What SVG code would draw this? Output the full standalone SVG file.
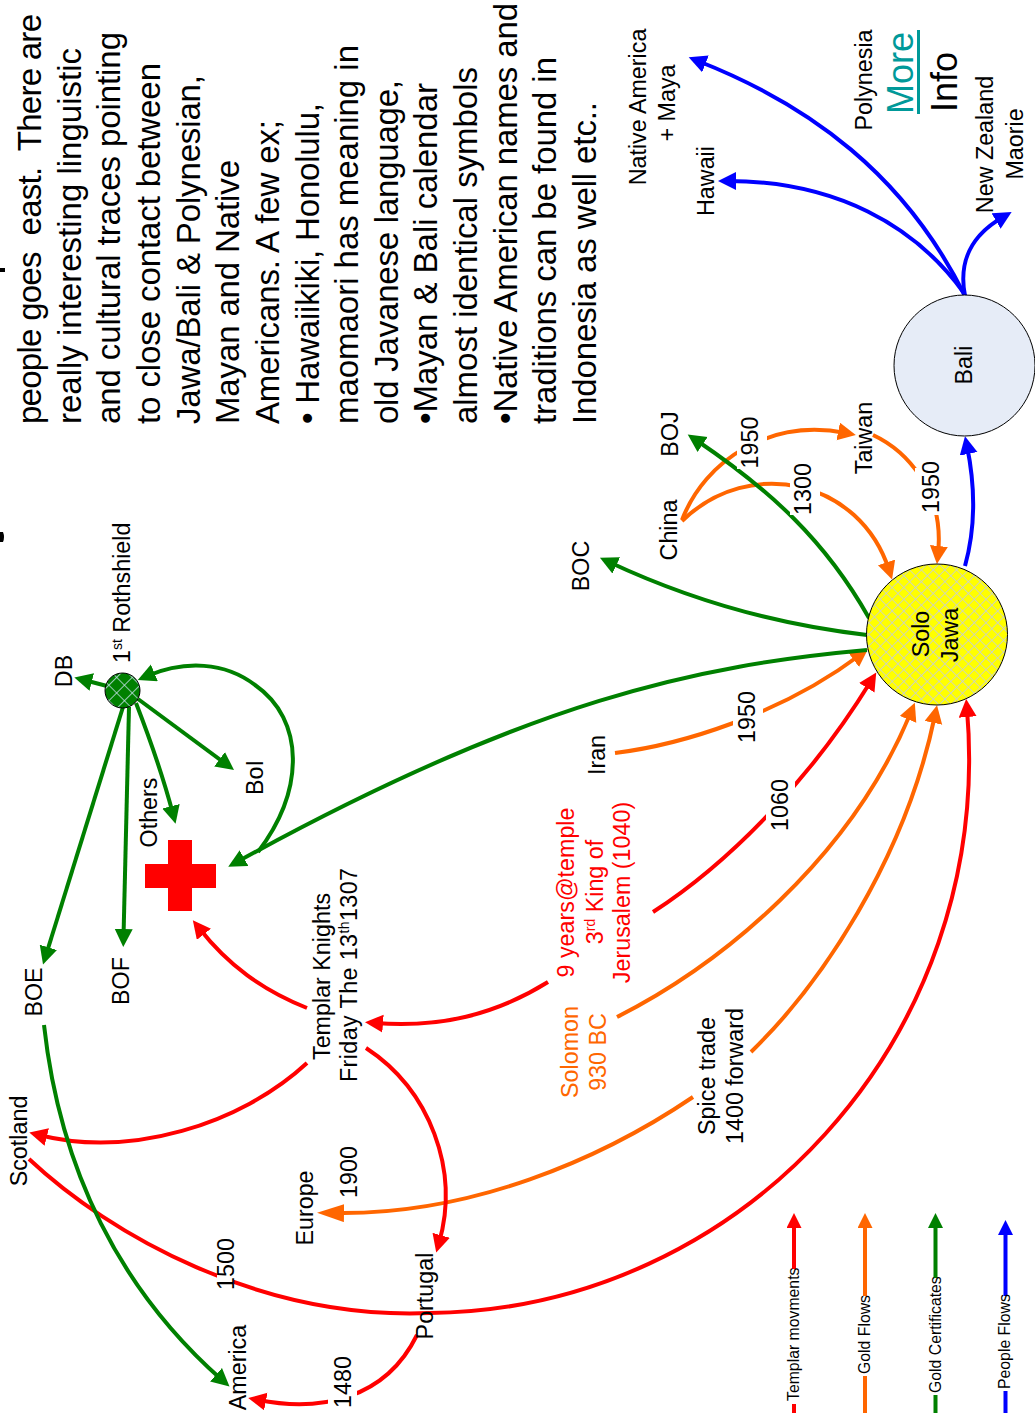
<svg xmlns="http://www.w3.org/2000/svg" width="1035" height="1420" viewBox="0 0 1035 1420">
<style>
text{font-family:"Liberation Sans",Arial,sans-serif;font-size:23.3px;fill:#000}
.m{text-anchor:middle}
.big{font-size:33px}
.leg{font-size:15.8px}
.red{fill:#f00}
.or{fill:#f60}
.bg{fill:#fff}
path.c{fill:none;stroke-width:4}
.r{stroke:#f00;marker-end:url(#hr)}
.o{stroke:#f60;marker-end:url(#ho)}
.g{stroke:#008000;marker-end:url(#hg)}
.b{stroke:#00f;marker-end:url(#hb)}
.lr{stroke:#f00;marker-end:url(#lr)}
.lo{stroke:#f60;marker-end:url(#lo)}
.lg{stroke:#008000;marker-end:url(#lg)}
.lb{stroke:#00f;marker-end:url(#lb)}
</style>
<defs>
<marker id="hr" markerUnits="userSpaceOnUse" markerWidth="19" markerHeight="19" refX="8" refY="9" orient="auto"><path d="M0 0L18 9L0 18z" fill="#f00"/></marker>
<marker id="ho" markerUnits="userSpaceOnUse" markerWidth="19" markerHeight="19" refX="8" refY="9" orient="auto"><path d="M0 0L18 9L0 18z" fill="#f60"/></marker>
<marker id="hol" markerUnits="userSpaceOnUse" markerWidth="28" markerHeight="19" refX="8" refY="9" orient="auto"><path d="M0 0L27 9L0 18z" fill="#f60"/></marker>
<marker id="hg" markerUnits="userSpaceOnUse" markerWidth="19" markerHeight="19" refX="8" refY="9" orient="auto"><path d="M0 0L18 9L0 18z" fill="#008000"/></marker>
<marker id="hb" markerUnits="userSpaceOnUse" markerWidth="19" markerHeight="19" refX="8" refY="9" orient="auto"><path d="M0 0L18 9L0 18z" fill="#00f"/></marker>
<marker id="lr" markerUnits="userSpaceOnUse" markerWidth="16" markerHeight="16" refX="8" refY="7.5" orient="auto"><path d="M0 0L15 7.5L0 15z" fill="#f00"/></marker>
<marker id="lo" markerUnits="userSpaceOnUse" markerWidth="16" markerHeight="16" refX="8" refY="7.5" orient="auto"><path d="M0 0L15 7.5L0 15z" fill="#f60"/></marker>
<marker id="lg" markerUnits="userSpaceOnUse" markerWidth="16" markerHeight="16" refX="8" refY="7.5" orient="auto"><path d="M0 0L15 7.5L0 15z" fill="#008000"/></marker>
<marker id="lb" markerUnits="userSpaceOnUse" markerWidth="16" markerHeight="16" refX="8" refY="7.5" orient="auto"><path d="M0 0L15 7.5L0 15z" fill="#00f"/></marker>
<pattern id="py" patternUnits="userSpaceOnUse" width="8.3" height="8.3" patternTransform="rotate(45)"><rect width="8.3" height="8.3" fill="#ff0"/><path d="M0 0H8.3M0 0V8.3" stroke="#c3cbe3" stroke-width="1.5" fill="none"/></pattern>
<pattern id="pg" patternUnits="userSpaceOnUse" width="11" height="11" patternTransform="rotate(45)"><rect width="11" height="11" fill="#008000"/><path d="M0 0H11M0 0V11" stroke="#c4e0ea" stroke-width="1.6" fill="none"/></pattern>
</defs>
<rect width="1035" height="1420" fill="#fff"/>

<g id="connectors">
<path class="c b" d="M965 296C905 175 810 105 698 61"/>
<path class="c b" d="M964 293C915 225 835 181 728 181"/>
<path class="c b" d="M965 296C958 260 972 235 1003 217"/>
<path class="c b" d="M965 566C975 530 976 490 967 446"/>
<path class="c o" d="M615 753C680 745 780 715 860 655"/>
<path class="c o" d="M617 1017C720 965 850 860 911 712"/>
<path class="c o" d="M751 1052C820 985 905 860 935 715"/>
<path class="c" style="stroke:#f60;marker-end:url(#hol)" d="M693 1097C600 1160 470 1215 336 1213"/>
<path class="c o" d="M682 520C705 460 770 418 846 433"/>
<path class="c o" d="M873 435C905 450 945 490 938 554"/>
<path class="c o" d="M682 521C750 455 860 480 889 570"/>
<path class="c r" d="M653 912C730 862 810 780 871 681"/>
<path class="c r" d="M548 982C495 1015 440 1028 375 1023"/>
<path class="c r" d="M307 1008C262 990 228 965 199 928"/>
<path class="c r" d="M307 1063C240 1125 130 1158 39 1135"/>
<path class="c r" d="M366 1048C430 1090 460 1170 439 1243"/>
<path class="c r" d="M417 1335C385 1400 320 1412 258 1400"/>
<path class="c r" d="M29 1159C110 1235 260 1320 430 1313C740 1310 995 1040 967 709"/>
<path class="c g" d="M867 650C700 665 530 700 237 862"/>
<path class="c g" d="M258 852C305 790 305 720 255 685C225 662 185 660 147 676"/>
<path class="c g" d="M867 635C780 625 690 600 609 562"/>
<path class="c g" d="M869 618C825 540 770 490 696 440"/>
<path class="c g" d="M44 1025C60 1170 120 1290 222 1380"/>
<path class="c g" d="M107 686L84 680"/>
<path class="c g" d="M123 707L46 955"/>
<path class="c g" d="M129 707L123.5 937"/>
<path class="c g" d="M136 703Q160 765 173 814"/>
<path class="c g" d="M138 699L226 764"/>
<path class="c lr" d="M794 1413V1220"/>
<path class="c lo" d="M865 1413V1220"/>
<path class="c lg" d="M935.5 1413V1220"/>
<path class="c lb" d="M1005.5 1413V1227"/>
</g>

<g id="intro-text">
<path d="M0 268h5v4h-5zM0 532h3q2 5 0 10h-3z" fill="#000"/>
<text class="big" textLength="410" transform="translate(41 424) rotate(-90)">people goes&#160; east.&#160; There are</text>
<text class="big" textLength="376" transform="translate(80.600 424) rotate(-90)">really interesting linguistic</text>
<text class="big" textLength="392" transform="translate(120.300 424) rotate(-90)">and cultural traces pointing</text>
<text class="big" textLength="361" transform="translate(159.900 424) rotate(-90)">to close contact between</text>
<text class="big" textLength="349" transform="translate(199.600 424) rotate(-90)">Jawa/Bali &amp; Polynesian,</text>
<text class="big" textLength="264" transform="translate(239.200 424) rotate(-90)">Mayan and Native</text>
<text class="big" textLength="304" transform="translate(278.800 424) rotate(-90)">Americans. A few ex;</text>
<text class="big" textLength="321" transform="translate(318.500 424) rotate(-90)">• Hawaiikiki, Honolulu,</text>
<text class="big" textLength="379" transform="translate(358.100 424) rotate(-90)">maomaori has meaning in</text>
<text class="big" textLength="344" transform="translate(397.800 424) rotate(-90)">old Javanese language,</text>
<text class="big" textLength="341" transform="translate(437.400 424) rotate(-90)">•Mayan &amp; Bali calendar</text>
<text class="big" textLength="357" transform="translate(477 424) rotate(-90)">almost identical symbols</text>
<text class="big" textLength="421" transform="translate(516.700 424) rotate(-90)">•Native American names and</text>
<text class="big" textLength="367" transform="translate(556.300 424) rotate(-90)">traditions can be found in</text>
<text class="big" textLength="322" transform="translate(596 424) rotate(-90)">Indonesia as well etc..</text>
</g>

<g id="node-jawa"><circle cx="937" cy="634.500" r="70.500" fill="url(#py)" stroke="#000" stroke-width="1"/>
<text class="m" transform="translate(929 634) rotate(-90)">Solo</text>
<text class="m" transform="translate(958 635) rotate(-90)">Jawa</text></g>
<g id="node-bali"><circle cx="964.500" cy="365.500" r="70.500" fill="#e6ecf7" stroke="#000" stroke-width="1"/>
<text class="m" transform="translate(972 365) rotate(-90)">Bali</text></g>
<g id="node-rothshield"><circle cx="122.500" cy="690.500" r="17.500" fill="url(#pg)" stroke="#000" stroke-width="1"/>
<text transform="translate(130 663) rotate(-90)">1<tspan font-size="14" dy="-8">st</tspan><tspan dy="8"> Rothshield</tspan></text></g>
<g id="node-cross"><path d="M168 840h24v24h24v24h-24v23h-24v-23h-23v-24h23z" fill="#f00"/></g>

<g id="node-db"><text class="m" transform="translate(71.500 671) rotate(-90)">DB</text></g>
<g id="node-boi"><text class="m" transform="translate(263 777.500) rotate(-90)">BoI</text></g>
<g id="node-others"><text class="m" transform="translate(157 812.500) rotate(-90)">Others</text></g>
<g id="node-boe"><text class="m" transform="translate(42 992) rotate(-90)">BOE</text></g>
<g id="node-bof"><text class="m" transform="translate(129 981) rotate(-90)">BOF</text></g>
<g id="node-templar"><text transform="translate(330 1060) rotate(-90)">Templar Knights</text>
<text textLength="214" transform="translate(357 1082) rotate(-90)">Friday The 13<tspan font-size="14" dy="-8">th</tspan><tspan dy="8">1307</tspan></text></g>
<g id="node-scotland"><text class="m" transform="translate(27 1141) rotate(-90)">Scotland</text></g>
<g id="node-europe"><text class="m" transform="translate(313 1208) rotate(-90)">Europe</text></g>
<g id="label-1900"><text class="m" transform="translate(357 1172) rotate(-90)">1900</text></g>
<g id="label-1500"><rect class="bg" x="217" y="1238" width="17" height="52"/><text class="m" transform="translate(234 1264) rotate(-90)">1500</text></g>
<g id="node-portugal"><text class="m" transform="translate(433 1296) rotate(-90)">Portugal</text></g>
<g id="node-america"><text class="m" transform="translate(246 1367.500) rotate(-90)">America</text></g>
<g id="label-1480"><rect class="bg" x="328" y="1358" width="29" height="50"/><text class="m" transform="translate(351 1382) rotate(-90)">1480</text></g>
<g id="node-spice"><text class="m" transform="translate(715 1076) rotate(-90)">Spice trade</text>
<text class="m" transform="translate(743 1076) rotate(-90)">1400 forward</text></g>
<g id="node-solomon"><text class="m or" transform="translate(578 1052) rotate(-90)">Solomon</text>
<text class="m or" transform="translate(606 1052) rotate(-90)">930 BC</text></g>
<g id="node-king"><text class="m red" transform="translate(574 892.500) rotate(-90)">9 years@temple</text>
<text class="m red" transform="translate(603 892) rotate(-90)">3<tspan font-size="14" dy="-8">rd</tspan><tspan dy="8"> King of</tspan></text>
<text class="m red" transform="translate(630 892.500) rotate(-90)">Jerusalem (1040)</text></g>
<g id="label-1060"><rect class="bg" x="766" y="779" width="29" height="52"/><text class="m" transform="translate(788 805) rotate(-90)">1060</text></g>
<g id="node-iran"><text class="m" transform="translate(605 755) rotate(-90)">Iran</text></g>
<g id="label-1950a"><rect class="bg" x="733" y="691" width="30" height="52"/><text class="m" transform="translate(755 717) rotate(-90)">1950</text></g>
<g id="node-china"><text class="m" transform="translate(677 530) rotate(-90)">China</text></g>
<g id="node-boc"><text class="m" transform="translate(589 566) rotate(-90)">BOC</text></g>
<g id="node-boj"><text class="m" transform="translate(678 434) rotate(-90)">BOJ</text></g>
<g id="label-1950b"><rect class="bg" x="737" y="417" width="30" height="52"/><text class="m" transform="translate(758 442.500) rotate(-90)">1950</text></g>
<g id="label-1300"><rect class="bg" x="790" y="463" width="30" height="52"/><text class="m" transform="translate(811 489) rotate(-90)">1300</text></g>
<g id="node-taiwan"><text class="m" transform="translate(872 438) rotate(-90)">Taiwan</text></g>
<g id="label-1950c"><rect class="bg" x="915" y="468" width="28" height="47"/><text class="m" transform="translate(939 487) rotate(-90)">1950</text></g>
<g id="node-native"><text class="m" transform="translate(646 107) rotate(-90)">Native America</text>
<text class="m" transform="translate(675 103) rotate(-90)">+ Maya</text></g>
<g id="node-hawaii"><text class="m" transform="translate(714 181) rotate(-90)">Hawaii</text></g>
<g id="node-polynesia"><text class="m" transform="translate(872 80) rotate(-90)">Polynesia</text></g>
<g id="more-info"><text style="font-size:36px;fill:#009999" transform="translate(913 114) rotate(-90)">More</text>
<rect x="917" y="30" width="3" height="84" fill="#009999"/>
<text style="font-size:36px" transform="translate(957 112) rotate(-90)">Info</text></g>
<g id="node-nz"><text class="m" transform="translate(993 144.500) rotate(-90)">New Zealand</text>
<text class="m" transform="translate(1023 144) rotate(-90)">Maorie</text></g>

<g id="legend">
<rect class="bg" x="787" y="1269" width="14" height="135"/><text class="leg" transform="translate(799 1401) rotate(-90)">Templar movments</text>
<rect class="bg" x="858" y="1296" width="14" height="80"/><text class="leg" transform="translate(870 1374) rotate(-90)">Gold Flows</text>
<rect class="bg" x="928" y="1278" width="14" height="117"/><text class="leg" transform="translate(941 1393) rotate(-90)">Gold Certificates</text>
<rect class="bg" x="998" y="1296" width="14" height="95"/><text class="leg" transform="translate(1010 1389) rotate(-90)">People Flows</text>
</g>
</svg>
